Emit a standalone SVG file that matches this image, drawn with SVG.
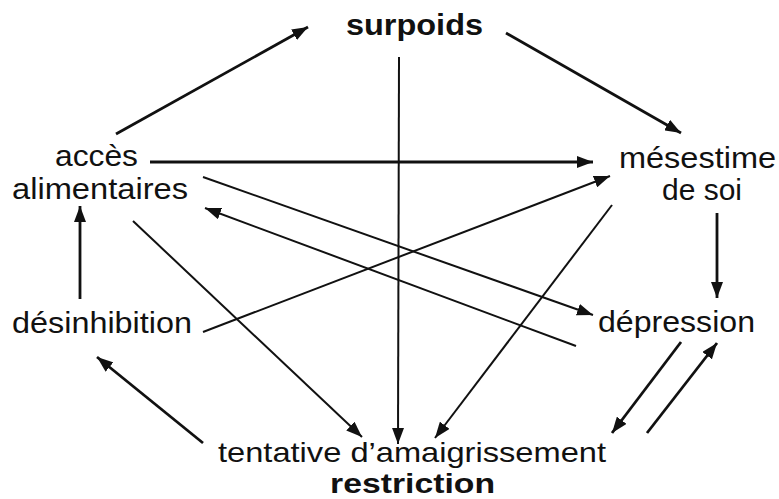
<svg xmlns="http://www.w3.org/2000/svg" width="779" height="499" viewBox="0 0 779 499">
<style>
text{font-family:"Liberation Sans",Arial,sans-serif;font-size:29px;fill:#111}
.b{font-weight:bold}
.s{font-size:28px}
.c{stroke:#111;fill:none}
.t{stroke-width:2.8}
.n{stroke-width:2}
</style>
<defs>
<marker id="ah" viewBox="0 0 16 12" refX="16" refY="6" markerWidth="16" markerHeight="12" markerUnits="userSpaceOnUse" orient="auto">
<path d="M0,0 L16,6 L0,12 Z" fill="#111"/>
</marker>
</defs>
<rect width="779" height="499" fill="#fff"/>
<g id="surpoids"><text class="b" x="346" y="35" textLength="137" lengthAdjust="spacingAndGlyphs">surpoids</text></g>
<g id="acces"><text x="55" y="166" textLength="83" lengthAdjust="spacingAndGlyphs">accès</text><text x="12" y="199" textLength="176" lengthAdjust="spacingAndGlyphs">alimentaires</text></g>
<g id="mesestime"><text x="619" y="168" textLength="157" lengthAdjust="spacingAndGlyphs">mésestime</text><text x="662" y="200" textLength="80" lengthAdjust="spacingAndGlyphs">de soi</text></g>
<g id="desinhibition"><text x="12" y="333" textLength="180" lengthAdjust="spacingAndGlyphs">désinhibition</text></g>
<g id="depression"><text x="598" y="332" textLength="157" lengthAdjust="spacingAndGlyphs">dépression</text></g>
<g id="tentative"><text class="s" x="218" y="462" textLength="388" lengthAdjust="spacingAndGlyphs">tentative d’amaigrissement</text><text class="b s" x="330" y="493" textLength="165" lengthAdjust="spacingAndGlyphs">restriction</text></g>
<g id="connectors">
<line class="c t" x1="116" y1="134" x2="308" y2="27" marker-end="url(#ah)"/>
<line class="c t" x1="506" y1="33" x2="681" y2="133" marker-end="url(#ah)"/>
<line class="c n" x1="399" y1="57" x2="398" y2="444" marker-end="url(#ah)"/>
<line class="c t" x1="150" y1="162" x2="593" y2="162" marker-end="url(#ah)"/>
<line class="c n" x1="203" y1="332" x2="610" y2="176" marker-end="url(#ah)"/>
<line class="c n" x1="612" y1="205" x2="435" y2="438" marker-end="url(#ah)"/>
<line class="c n" x1="133" y1="221" x2="362" y2="437" marker-end="url(#ah)"/>
<line class="c n" x1="203" y1="177" x2="593" y2="315" marker-end="url(#ah)"/>
<line class="c n" x1="576" y1="346" x2="205" y2="208" marker-end="url(#ah)"/>
<line class="c t" x1="717" y1="213" x2="717" y2="298" marker-end="url(#ah)"/>
<line class="c t" x1="681" y1="342" x2="612" y2="433" marker-end="url(#ah)"/>
<line class="c t" x1="647" y1="433" x2="717" y2="343" marker-end="url(#ah)"/>
<line class="c t" x1="203" y1="443" x2="97" y2="357" marker-end="url(#ah)"/>
<line class="c t" x1="80" y1="299" x2="80" y2="206" marker-end="url(#ah)"/>
</g>
</svg>
